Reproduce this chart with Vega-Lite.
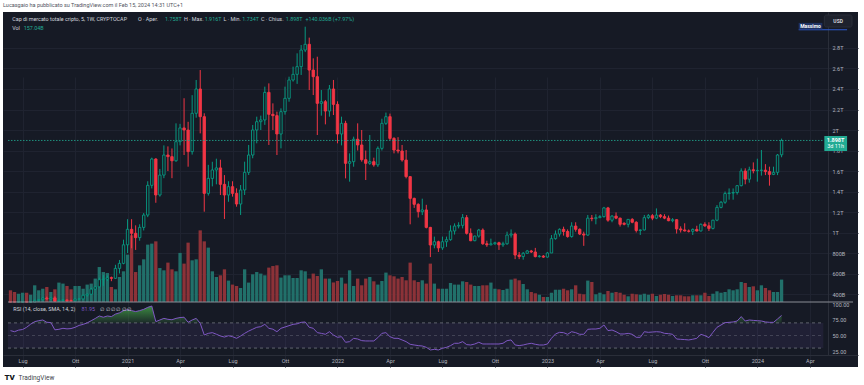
{
  "$schema": "https://vega.github.io/schema/vega-lite/v6.json",
  "width": 855,
  "height": 355,
  "autosize": {"type": "none"},
  "padding": {"left": 3, "top": 12, "right": 6, "bottom": 18},
  "background": "#ffffff",
  "config": {
    "view": {"fill": "#161a25", "stroke": null},
    "font": "Roboto",
    "text": {"font": "Roboto"},
    "mark": {"invalid": null}
  },
  "title": {
    "text": "Lucasgaio ha pubblicato su TradingView.com il Feb 15, 2024 14:31 UTC+1",
    "anchor": "start", "frame": "group", "fontSize": 5.5, "fontWeight": "normal",
    "color": "#50535e", "offset": 4
  },
  "datasets": {
    "weekly": [
      {"d":"2020-06-15","o":0.27,"h":0.278,"l":0.26,"c":0.268,"v":82,"r":57.7},
      {"d":"2020-06-22","o":0.268,"h":0.272,"l":0.258,"c":0.262,"v":70,"r":56},
      {"d":"2020-06-29","o":0.262,"h":0.272,"l":0.258,"c":0.27,"v":58,"r":58.5},
      {"d":"2020-07-06","o":0.27,"h":0.278,"l":0.266,"c":0.273,"v":65,"r":59.5},
      {"d":"2020-07-13","o":0.273,"h":0.276,"l":0.266,"c":0.271,"v":65,"r":63},
      {"d":"2020-07-20","o":0.271,"h":0.308,"l":0.268,"c":0.305,"v":51,"r":68},
      {"d":"2020-07-27","o":0.305,"h":0.345,"l":0.3,"c":0.338,"v":117,"r":72},
      {"d":"2020-08-03","o":0.338,"h":0.352,"l":0.325,"c":0.345,"v":82,"r":73.5},
      {"d":"2020-08-10","o":0.345,"h":0.368,"l":0.335,"c":0.36,"v":93,"r":74.6},
      {"d":"2020-08-17","o":0.36,"h":0.375,"l":0.345,"c":0.352,"v":105,"r":71},
      {"d":"2020-08-24","o":0.352,"h":0.368,"l":0.348,"c":0.362,"v":70,"r":70.5},
      {"d":"2020-08-31","o":0.362,"h":0.378,"l":0.318,"c":0.33,"v":89,"r":59},
      {"d":"2020-09-07","o":0.33,"h":0.345,"l":0.318,"c":0.338,"v":136,"r":59.8},
      {"d":"2020-09-14","o":0.338,"h":0.352,"l":0.33,"c":0.342,"v":129,"r":61.4},
      {"d":"2020-09-21","o":0.342,"h":0.346,"l":0.318,"c":0.336,"v":112,"r":60.5},
      {"d":"2020-09-28","o":0.336,"h":0.345,"l":0.326,"c":0.334,"v":89,"r":61},
      {"d":"2020-10-05","o":0.334,"h":0.352,"l":0.33,"c":0.35,"v":112,"r":63},
      {"d":"2020-10-12","o":0.35,"h":0.36,"l":0.342,"c":0.352,"v":112,"r":66},
      {"d":"2020-10-19","o":0.352,"h":0.392,"l":0.35,"c":0.388,"v":93,"r":67.7},
      {"d":"2020-10-26","o":0.388,"h":0.405,"l":0.375,"c":0.398,"v":122,"r":70},
      {"d":"2020-11-02","o":0.398,"h":0.46,"l":0.392,"c":0.448,"v":129,"r":73.5},
      {"d":"2020-11-09","o":0.448,"h":0.478,"l":0.44,"c":0.47,"v":164,"r":77},
      {"d":"2020-11-16","o":0.47,"h":0.56,"l":0.465,"c":0.54,"v":245,"r":81},
      {"d":"2020-11-23","o":0.54,"h":0.585,"l":0.48,"c":0.545,"v":210,"r":79},
      {"d":"2020-11-30","o":0.545,"h":0.58,"l":0.528,"c":0.56,"v":203,"r":81},
      {"d":"2020-12-07","o":0.56,"h":0.57,"l":0.525,"c":0.553,"v":105,"r":80},
      {"d":"2020-12-14","o":0.553,"h":0.685,"l":0.548,"c":0.65,"v":89,"r":84},
      {"d":"2020-12-21","o":0.65,"h":0.732,"l":0.6,"c":0.699,"v":175,"r":86},
      {"d":"2020-12-28","o":0.699,"h":0.93,"l":0.69,"c":0.88,"v":215,"r":89.4},
      {"d":"2021-01-04","o":0.88,"h":1.13,"l":0.8,"c":1.031,"v":332,"r":91},
      {"d":"2021-01-11","o":1.031,"h":1.13,"l":0.846,"c":0.992,"v":467,"r":89.5},
      {"d":"2021-01-18","o":0.992,"h":1.07,"l":0.83,"c":0.95,"v":210,"r":88},
      {"d":"2021-01-25","o":0.95,"h":1.08,"l":0.92,"c":1.05,"v":257,"r":89.5},
      {"d":"2021-02-01","o":1.05,"h":1.19,"l":1.02,"c":1.17,"v":299,"r":91.5},
      {"d":"2021-02-08","o":1.17,"h":1.5,"l":1.15,"c":1.46,"v":402,"r":94.7},
      {"d":"2021-02-15","o":1.46,"h":1.73,"l":1.43,"c":1.717,"v":409,"r":96.8},
      {"d":"2021-02-22","o":1.717,"h":1.725,"l":1.29,"c":1.366,"v":425,"r":72},
      {"d":"2021-03-01","o":1.366,"h":1.62,"l":1.35,"c":1.56,"v":238,"r":74.6},
      {"d":"2021-03-08","o":1.56,"h":1.85,"l":1.53,"c":1.756,"v":222,"r":77.2},
      {"d":"2021-03-15","o":1.756,"h":1.84,"l":1.6,"c":1.74,"v":276,"r":75.7},
      {"d":"2021-03-22","o":1.74,"h":1.82,"l":1.53,"c":1.7,"v":229,"r":75},
      {"d":"2021-03-29","o":1.7,"h":2.065,"l":1.69,"c":1.886,"v":215,"r":77.2},
      {"d":"2021-04-05","o":1.886,"h":2.06,"l":1.85,"c":2.02,"v":344,"r":78.5},
      {"d":"2021-04-12","o":2.02,"h":2.31,"l":1.756,"c":2.0,"v":269,"r":79},
      {"d":"2021-04-19","o":2.0,"h":2.08,"l":1.642,"c":1.789,"v":416,"r":71},
      {"d":"2021-04-26","o":1.789,"h":2.34,"l":1.76,"c":2.163,"v":292,"r":74.6},
      {"d":"2021-05-03","o":2.163,"h":2.488,"l":2.12,"c":2.4,"v":299,"r":77.2},
      {"d":"2021-05-10","o":2.4,"h":2.585,"l":1.967,"c":2.13,"v":502,"r":69.3},
      {"d":"2021-05-17","o":2.13,"h":2.163,"l":1.203,"c":1.382,"v":425,"r":50.8},
      {"d":"2021-05-24","o":1.382,"h":1.66,"l":1.36,"c":1.528,"v":381,"r":53.4},
      {"d":"2021-05-31","o":1.528,"h":1.69,"l":1.45,"c":1.61,"v":215,"r":54.5},
      {"d":"2021-06-07","o":1.61,"h":1.72,"l":1.47,"c":1.63,"v":175,"r":52},
      {"d":"2021-06-14","o":1.63,"h":1.71,"l":1.366,"c":1.47,"v":187,"r":49.2},
      {"d":"2021-06-21","o":1.47,"h":1.56,"l":1.132,"c":1.366,"v":229,"r":47.5},
      {"d":"2021-06-28","o":1.366,"h":1.5,"l":1.3,"c":1.447,"v":150,"r":49.7},
      {"d":"2021-07-05","o":1.447,"h":1.5,"l":1.35,"c":1.382,"v":122,"r":48.1},
      {"d":"2021-07-12","o":1.382,"h":1.431,"l":1.252,"c":1.278,"v":112,"r":45.5},
      {"d":"2021-07-19","o":1.278,"h":1.463,"l":1.171,"c":1.415,"v":98,"r":49.2},
      {"d":"2021-07-26","o":1.415,"h":1.691,"l":1.366,"c":1.587,"v":229,"r":53.4},
      {"d":"2021-08-02","o":1.587,"h":1.854,"l":1.561,"c":1.756,"v":136,"r":57},
      {"d":"2021-08-09","o":1.756,"h":2.049,"l":1.724,"c":2.0,"v":194,"r":60},
      {"d":"2021-08-16","o":2.0,"h":2.13,"l":1.87,"c":2.081,"v":210,"r":63},
      {"d":"2021-08-23","o":2.081,"h":2.14,"l":2.0,"c":2.098,"v":199,"r":64},
      {"d":"2021-08-30","o":2.098,"h":2.423,"l":2.05,"c":2.367,"v":187,"r":67.7},
      {"d":"2021-09-06","o":2.367,"h":2.455,"l":1.854,"c":2.153,"v":241,"r":61.4},
      {"d":"2021-09-13","o":2.153,"h":2.26,"l":2.0,"c":2.14,"v":252,"r":60},
      {"d":"2021-09-20","o":2.14,"h":2.179,"l":1.756,"c":1.961,"v":257,"r":56},
      {"d":"2021-09-27","o":1.961,"h":2.211,"l":1.821,"c":2.179,"v":171,"r":61.4},
      {"d":"2021-10-04","o":2.179,"h":2.423,"l":2.15,"c":2.309,"v":187,"r":63.5},
      {"d":"2021-10-11","o":2.309,"h":2.52,"l":2.276,"c":2.488,"v":187,"r":65.6},
      {"d":"2021-10-18","o":2.488,"h":2.618,"l":2.472,"c":2.543,"v":168,"r":67.7},
      {"d":"2021-10-25","o":2.543,"h":2.748,"l":2.45,"c":2.618,"v":168,"r":68.5},
      {"d":"2021-11-01","o":2.618,"h":2.829,"l":2.537,"c":2.78,"v":222,"r":70.9},
      {"d":"2021-11-08","o":2.78,"h":3.008,"l":2.76,"c":2.836,"v":215,"r":71.5},
      {"d":"2021-11-15","o":2.836,"h":2.901,"l":2.39,"c":2.585,"v":164,"r":63},
      {"d":"2021-11-22","o":2.585,"h":2.699,"l":2.341,"c":2.52,"v":199,"r":61.4},
      {"d":"2021-11-29","o":2.52,"h":2.715,"l":1.951,"c":2.26,"v":182,"r":54.5},
      {"d":"2021-12-06","o":2.26,"h":2.39,"l":2.14,"c":2.276,"v":229,"r":53.4},
      {"d":"2021-12-13","o":2.276,"h":2.293,"l":2.055,"c":2.185,"v":164,"r":51.9},
      {"d":"2021-12-20","o":2.185,"h":2.439,"l":2.13,"c":2.4,"v":164,"r":56},
      {"d":"2021-12-27","o":2.4,"h":2.488,"l":2.146,"c":2.25,"v":137,"r":50.8},
      {"d":"2022-01-03","o":2.25,"h":2.28,"l":1.87,"c":1.961,"v":147,"r":47.1},
      {"d":"2022-01-10","o":1.961,"h":2.13,"l":1.85,"c":2.065,"v":171,"r":48.1},
      {"d":"2022-01-17","o":2.065,"h":2.09,"l":1.528,"c":1.675,"v":129,"r":39.2},
      {"d":"2022-01-24","o":1.675,"h":1.772,"l":1.496,"c":1.691,"v":222,"r":40.2},
      {"d":"2022-01-31","o":1.691,"h":1.935,"l":1.642,"c":1.91,"v":112,"r":45.5},
      {"d":"2022-02-07","o":1.91,"h":2.065,"l":1.8,"c":1.854,"v":164,"r":44.4},
      {"d":"2022-02-14","o":1.854,"h":2.0,"l":1.691,"c":1.71,"v":117,"r":41.8},
      {"d":"2022-02-21","o":1.71,"h":1.8,"l":1.512,"c":1.675,"v":164,"r":41.3},
      {"d":"2022-02-28","o":1.675,"h":1.951,"l":1.66,"c":1.691,"v":175,"r":41.3},
      {"d":"2022-03-07","o":1.691,"h":1.73,"l":1.642,"c":1.66,"v":145,"r":41.3},
      {"d":"2022-03-14","o":1.66,"h":1.84,"l":1.64,"c":1.821,"v":122,"r":46.6},
      {"d":"2022-03-21","o":1.821,"h":2.11,"l":1.8,"c":2.065,"v":147,"r":53.4},
      {"d":"2022-03-28","o":2.065,"h":2.17,"l":2.05,"c":2.13,"v":206,"r":54.5},
      {"d":"2022-04-04","o":2.13,"h":2.16,"l":1.9,"c":1.918,"v":187,"r":48.1},
      {"d":"2022-04-11","o":1.918,"h":1.93,"l":1.772,"c":1.805,"v":180,"r":45.5},
      {"d":"2022-04-18","o":1.805,"h":1.93,"l":1.772,"c":1.795,"v":164,"r":45.5},
      {"d":"2022-04-25","o":1.795,"h":1.854,"l":1.691,"c":1.707,"v":175,"r":42.9},
      {"d":"2022-05-02","o":1.707,"h":1.805,"l":1.528,"c":1.545,"v":152,"r":40.2},
      {"d":"2022-05-09","o":1.545,"h":1.55,"l":1.08,"c":1.333,"v":276,"r":36},
      {"d":"2022-05-16","o":1.333,"h":1.34,"l":1.24,"c":1.275,"v":152,"r":34.9},
      {"d":"2022-05-23","o":1.275,"h":1.285,"l":1.146,"c":1.203,"v":140,"r":33.9},
      {"d":"2022-05-30","o":1.203,"h":1.33,"l":1.17,"c":1.22,"v":152,"r":33.3},
      {"d":"2022-06-06","o":1.22,"h":1.27,"l":1.04,"c":1.05,"v":129,"r":31.2},
      {"d":"2022-06-13","o":1.05,"h":1.055,"l":0.76,"c":0.878,"v":269,"r":27},
      {"d":"2022-06-20","o":0.878,"h":0.96,"l":0.846,"c":0.91,"v":129,"r":28},
      {"d":"2022-06-27","o":0.91,"h":0.92,"l":0.81,"c":0.85,"v":93,"r":27},
      {"d":"2022-07-04","o":0.85,"h":0.96,"l":0.83,"c":0.91,"v":93,"r":29.6},
      {"d":"2022-07-11","o":0.91,"h":0.96,"l":0.86,"c":0.93,"v":93,"r":31.2},
      {"d":"2022-07-18","o":0.93,"h":1.07,"l":0.92,"c":1.015,"v":133,"r":33.9},
      {"d":"2022-07-25","o":1.015,"h":1.089,"l":0.98,"c":1.063,"v":122,"r":37.6},
      {"d":"2022-08-01","o":1.063,"h":1.1,"l":1.04,"c":1.07,"v":122,"r":37.6},
      {"d":"2022-08-08","o":1.07,"h":1.18,"l":1.04,"c":1.145,"v":145,"r":40.2},
      {"d":"2022-08-15","o":1.145,"h":1.17,"l":0.98,"c":0.992,"v":140,"r":35.5},
      {"d":"2022-08-22","o":0.992,"h":1.04,"l":0.915,"c":0.92,"v":122,"r":34.9},
      {"d":"2022-08-29","o":0.92,"h":0.97,"l":0.915,"c":0.965,"v":112,"r":36.5},
      {"d":"2022-09-05","o":0.965,"h":1.035,"l":0.95,"c":1.024,"v":112,"r":39.2},
      {"d":"2022-09-12","o":1.024,"h":1.04,"l":0.88,"c":0.89,"v":117,"r":36.5},
      {"d":"2022-09-19","o":0.89,"h":0.92,"l":0.86,"c":0.88,"v":117,"r":36.5},
      {"d":"2022-09-26","o":0.88,"h":0.94,"l":0.874,"c":0.89,"v":136,"r":36.5},
      {"d":"2022-10-03","o":0.89,"h":0.91,"l":0.88,"c":0.9,"v":93,"r":36.5},
      {"d":"2022-10-10","o":0.9,"h":0.91,"l":0.83,"c":0.88,"v":89,"r":36.5},
      {"d":"2022-10-17","o":0.88,"h":0.91,"l":0.86,"c":0.89,"v":84,"r":37.6},
      {"d":"2022-10-24","o":0.89,"h":1.008,"l":0.88,"c":0.975,"v":93,"r":41.8},
      {"d":"2022-10-31","o":0.975,"h":1.03,"l":0.95,"c":0.985,"v":157,"r":42.9},
      {"d":"2022-11-07","o":0.985,"h":1.0,"l":0.74,"c":0.78,"v":164,"r":34.9},
      {"d":"2022-11-14","o":0.78,"h":0.81,"l":0.74,"c":0.765,"v":152,"r":33.9},
      {"d":"2022-11-21","o":0.765,"h":0.81,"l":0.735,"c":0.797,"v":126,"r":34.9},
      {"d":"2022-11-28","o":0.797,"h":0.83,"l":0.79,"c":0.82,"v":89,"r":36.5},
      {"d":"2022-12-05","o":0.82,"h":0.83,"l":0.8,"c":0.81,"v":70,"r":37.6},
      {"d":"2022-12-12","o":0.81,"h":0.85,"l":0.757,"c":0.765,"v":61,"r":36},
      {"d":"2022-12-19","o":0.765,"h":0.78,"l":0.755,"c":0.77,"v":51,"r":34.9},
      {"d":"2022-12-26","o":0.77,"h":0.78,"l":0.752,"c":0.76,"v":35,"r":34.9},
      {"d":"2023-01-02","o":0.76,"h":0.81,"l":0.755,"c":0.8,"v":35,"r":36.5},
      {"d":"2023-01-09","o":0.8,"h":0.975,"l":0.8,"c":0.94,"v":65,"r":45.5},
      {"d":"2023-01-16","o":0.94,"h":1.02,"l":0.93,"c":0.985,"v":86,"r":52.4},
      {"d":"2023-01-23","o":0.985,"h":1.04,"l":0.96,"c":1.031,"v":86,"r":55},
      {"d":"2023-01-30","o":1.031,"h":1.057,"l":0.97,"c":1.01,"v":93,"r":54.5},
      {"d":"2023-02-06","o":1.01,"h":1.03,"l":0.95,"c":0.96,"v":82,"r":51.9},
      {"d":"2023-02-13","o":0.96,"h":1.1,"l":0.95,"c":1.063,"v":89,"r":56},
      {"d":"2023-02-20","o":1.063,"h":1.1,"l":1.008,"c":1.031,"v":117,"r":54.5},
      {"d":"2023-02-27","o":1.031,"h":1.04,"l":0.975,"c":0.985,"v":58,"r":51.9},
      {"d":"2023-03-06","o":0.985,"h":1.008,"l":0.87,"c":0.975,"v":54,"r":51.9},
      {"d":"2023-03-13","o":0.975,"h":1.171,"l":0.968,"c":1.14,"v":150,"r":59.8},
      {"d":"2023-03-20","o":1.14,"h":1.171,"l":1.11,"c":1.135,"v":140,"r":60.3},
      {"d":"2023-03-27","o":1.135,"h":1.178,"l":1.08,"c":1.145,"v":54,"r":60.3},
      {"d":"2023-04-03","o":1.145,"h":1.17,"l":1.14,"c":1.155,"v":65,"r":61.4},
      {"d":"2023-04-10","o":1.155,"h":1.25,"l":1.145,"c":1.24,"v":54,"r":66.7},
      {"d":"2023-04-17","o":1.24,"h":1.25,"l":1.105,"c":1.12,"v":77,"r":57.7},
      {"d":"2023-04-24","o":1.12,"h":1.17,"l":1.1,"c":1.16,"v":65,"r":58.7},
      {"d":"2023-05-01","o":1.16,"h":1.196,"l":1.13,"c":1.14,"v":70,"r":56},
      {"d":"2023-05-08","o":1.14,"h":1.145,"l":1.058,"c":1.08,"v":65,"r":52.4},
      {"d":"2023-05-15","o":1.09,"h":1.1,"l":1.07,"c":1.08,"v":51,"r":52.4},
      {"d":"2023-05-22","o":1.08,"h":1.13,"l":1.05,"c":1.128,"v":40,"r":53.4},
      {"d":"2023-05-29","o":1.128,"h":1.14,"l":1.09,"c":1.1,"v":58,"r":51.9},
      {"d":"2023-06-05","o":1.1,"h":1.11,"l":1.0,"c":1.02,"v":54,"r":47.1},
      {"d":"2023-06-12","o":1.02,"h":1.03,"l":0.976,"c":1.025,"v":51,"r":47.1},
      {"d":"2023-06-19","o":1.025,"h":1.171,"l":1.02,"c":1.145,"v":58,"r":56},
      {"d":"2023-06-26","o":1.145,"h":1.18,"l":1.13,"c":1.164,"v":51,"r":55},
      {"d":"2023-07-03","o":1.164,"h":1.18,"l":1.12,"c":1.14,"v":58,"r":55.5},
      {"d":"2023-07-10","o":1.14,"h":1.235,"l":1.13,"c":1.17,"v":42,"r":56},
      {"d":"2023-07-17","o":1.17,"h":1.18,"l":1.14,"c":1.155,"v":51,"r":55.5},
      {"d":"2023-07-24","o":1.155,"h":1.178,"l":1.13,"c":1.14,"v":56,"r":53.4},
      {"d":"2023-07-31","o":1.14,"h":1.165,"l":1.11,"c":1.115,"v":51,"r":52.9},
      {"d":"2023-08-07","o":1.115,"h":1.14,"l":1.1,"c":1.125,"v":42,"r":51.9},
      {"d":"2023-08-14","o":1.125,"h":1.13,"l":0.99,"c":1.035,"v":47,"r":44.4},
      {"d":"2023-08-21","o":1.035,"h":1.06,"l":1.0,"c":1.025,"v":47,"r":43.9},
      {"d":"2023-08-28","o":1.025,"h":1.09,"l":1.01,"c":1.015,"v":40,"r":43.5},
      {"d":"2023-09-04","o":1.015,"h":1.03,"l":1.0,"c":1.012,"v":40,"r":42.9},
      {"d":"2023-09-11","o":1.012,"h":1.04,"l":0.976,"c":1.03,"v":47,"r":44},
      {"d":"2023-09-18","o":1.03,"h":1.066,"l":1.01,"c":1.015,"v":47,"r":45.5},
      {"d":"2023-09-25","o":1.015,"h":1.088,"l":1.01,"c":1.08,"v":47,"r":51.9},
      {"d":"2023-10-02","o":1.08,"h":1.1,"l":1.055,"c":1.065,"v":65,"r":49.7},
      {"d":"2023-10-09","o":1.065,"h":1.1,"l":1.015,"c":1.04,"v":42,"r":46.6},
      {"d":"2023-10-16","o":1.04,"h":1.125,"l":1.03,"c":1.12,"v":58,"r":55},
      {"d":"2023-10-23","o":1.12,"h":1.268,"l":1.11,"c":1.245,"v":75,"r":63},
      {"d":"2023-10-30","o":1.245,"h":1.307,"l":1.236,"c":1.295,"v":65,"r":66.7},
      {"d":"2023-11-06","o":1.295,"h":1.4,"l":1.28,"c":1.38,"v":70,"r":70.4},
      {"d":"2023-11-13","o":1.38,"h":1.43,"l":1.32,"c":1.385,"v":89,"r":70.9},
      {"d":"2023-11-20","o":1.385,"h":1.43,"l":1.32,"c":1.39,"v":82,"r":71.5},
      {"d":"2023-11-27","o":1.39,"h":1.463,"l":1.37,"c":1.457,"v":89,"r":73},
      {"d":"2023-12-04","o":1.457,"h":1.626,"l":1.45,"c":1.6,"v":140,"r":80},
      {"d":"2023-12-11","o":1.6,"h":1.626,"l":1.47,"c":1.52,"v":133,"r":73},
      {"d":"2023-12-18","o":1.52,"h":1.642,"l":1.486,"c":1.612,"v":105,"r":74.6},
      {"d":"2023-12-25","o":1.612,"h":1.684,"l":1.577,"c":1.603,"v":110,"r":74},
      {"d":"2024-01-01","o":1.603,"h":1.72,"l":1.496,"c":1.606,"v":82,"r":73.5},
      {"d":"2024-01-08","o":1.606,"h":1.805,"l":1.555,"c":1.608,"v":117,"r":73},
      {"d":"2024-01-15","o":1.608,"h":1.667,"l":1.56,"c":1.594,"v":98,"r":71.5},
      {"d":"2024-01-22","o":1.594,"h":1.642,"l":1.457,"c":1.567,"v":82,"r":70.9},
      {"d":"2024-01-29","o":1.567,"h":1.642,"l":1.56,"c":1.587,"v":70,"r":70.9},
      {"d":"2024-02-05","o":1.587,"h":1.766,"l":1.56,"c":1.756,"v":70,"r":76.2},
      {"d":"2024-02-12","o":1.758,"h":1.916,"l":1.734,"c":1.898,"v":157.04,"r":81.95}
    ],
    "one": [{"k": 1}]
  },
  "resolve": {"scale": {"y": "independent"}, "axis": {"y": "independent"}},
  "layer": [
    {
      "data": {"name": "weekly"},
      "mark": {"type": "bar", "size": 3.3},
      "encoding": {
        "x": {
          "field": "d", "type": "temporal",
          "scale": {"domain": [{"year": 2020, "month": 6, "date": 10, "hours": 17}, {"year": 2024, "month": 6, "date": 14, "hours": 20}]},
          "axis": {
            "orient": "bottom", "offset": -12, "tickCount": 60,
            "values": [
              {"year": 2020, "month": 7, "date": 6}, {"year": 2020, "month": 10, "date": 5},
              {"year": 2021, "month": 1, "date": 4}, {"year": 2021, "month": 4, "date": 5},
              {"year": 2021, "month": 7, "date": 5}, {"year": 2021, "month": 10, "date": 4},
              {"year": 2022, "month": 1, "date": 3}, {"year": 2022, "month": 4, "date": 4},
              {"year": 2022, "month": 7, "date": 4}, {"year": 2022, "month": 10, "date": 3},
              {"year": 2023, "month": 1, "date": 2}, {"year": 2023, "month": 4, "date": 3},
              {"year": 2023, "month": 7, "date": 3}, {"year": 2023, "month": 10, "date": 2},
              {"year": 2024, "month": 1, "date": 1}, {"year": 2024, "month": 4, "date": 1}
            ],
            "labelExpr": "month(datum.value) == 0 ? timeFormat(datum.value, '%Y') : ['Gen','Feb','Mar','Apr','Mag','Giu','Lug','Ago','Set','Ott','Nov','Dic'][month(datum.value)]",
            "labelFontSize": 5.5, "labelColor": "#b2b5be", "labelPadding": 3,
            "labelFlush": false, "labelOverlap": false,
            "ticks": false, "domain": true, "domainColor": "#2a2e39",
            "grid": true, "gridColor": "#1f2330",
            "title": "TradingView", "titleX": 15, "titleY": 22, "titleAlign": "left",
            "titleAnchor": "start", "titleBaseline": "middle", "titleFontSize": 6.5,
            "titleFontWeight": "normal", "titleColor": "#3c3f4a"
          }
        },
        "y": {
          "field": "v", "type": "quantitative",
          "scale": {"domain": [0, 2032], "range": [290, 0], "nice": false},
          "axis": {
            "orient": "left", "title": "TV", "titleAngle": 0, "titleX": 1, "titleY": 365,
            "titleAlign": "left", "titleBaseline": "middle", "titleFontSize": 8,
            "titleFontWeight": 900, "titleColor": "#131722",
            "labels": false, "ticks": false, "domain": false, "grid": false
          }
        },
        "color": {"condition": {"test": "datum.c >= datum.o", "value": "#21706a"}, "value": "#8c3238"}
      }
    },
    {
      "layer": [
        {
          "data": {"name": "weekly"},
          "mark": {"type": "rule", "strokeWidth": 1},
          "encoding": {
            "x": {"field": "d", "type": "temporal"},
            "y": {
              "field": "l", "type": "quantitative",
              "scale": {"domain": [0.322, 3.1512], "range": [290, 0], "zero": false, "nice": false, "clamp": true},
              "axis": {
                "orient": "right", "offset": -30, "title": null, "tickCount": 60,
                "values": [0.4, 0.6, 0.8, 1, 1.2, 1.4, 1.6, 1.8, 2, 2.2, 2.4, 2.6, 2.8],
                "labelExpr": "datum.value >= 1 ? format(datum.value, '.1~f') + 'T' : format(datum.value * 1000, 'd') + 'B'",
                "labelFontSize": 5.5, "labelColor": "#b2b5be", "labelPadding": 4,
                "labelOverlap": false, "labelFlush": false,
                "ticks": false, "domain": true, "domainColor": "#2a2e39",
                "grid": true, "gridColor": "#1f2330"
              }
            },
            "y2": {"field": "h"},
            "color": {"condition": {"test": "datum.c >= datum.o", "value": "#089981"}, "value": "#f23645"}
          }
        },
        {
          "data": {"name": "weekly"},
          "mark": {"type": "bar", "size": 2.4, "strokeWidth": 0.9},
          "encoding": {
            "x": {"field": "d", "type": "temporal"},
            "y": {"field": "o", "type": "quantitative"},
            "y2": {"field": "c"},
            "fill": {"condition": {"test": "datum.c >= datum.o", "value": "#161a25"}, "value": "#f23645"},
            "stroke": {"condition": {"test": "datum.c >= datum.o", "value": "#089981"}, "value": "#f23645"}
          }
        },
        {
          "data": {"name": "one"},
          "mark": {"type": "rule", "color": "#22ab94", "strokeDash": [1.5, 1.5], "strokeWidth": 1, "opacity": 0.8},
          "encoding": {
            "y": {"datum": 1.898, "type": "quantitative"},
            "x": {"datum": {"year": 2020, "month": 6, "date": 10, "hours": 17}, "type": "temporal"},
            "x2": {"datum": {"year": 2024, "month": 4, "date": 24, "hours": 10}}
          }
        },
        {
          "data": {"name": "one"},
          "mark": {"type": "rule", "color": "#8a8d96", "strokeWidth": 1},
          "encoding": {
            "y": {"datum": 0.322, "type": "quantitative"},
            "x": {"datum": {"year": 2020, "month": 6, "date": 10, "hours": 17}, "type": "temporal"},
            "x2": {"datum": {"year": 2024, "month": 6, "date": 14, "hours": 20}}
          }
        },
        {
          "data": {"name": "one"},
          "mark": {"type": "rule", "color": "#2f5bd0", "strokeWidth": 1},
          "encoding": {
            "y": {"datum": 2.978, "type": "quantitative"},
            "x": {"datum": {"year": 2024, "month": 3, "date": 12, "hours": 14}, "type": "temporal"},
            "x2": {"datum": {"year": 2024, "month": 6, "date": 4, "hours": 14}}
          }
        },
        {
          "data": {"name": "one"},
          "mark": {"type": "rect", "color": "#1e3262"},
          "encoding": {
            "y": {"datum": 3.045, "type": "quantitative"}, "y2": {"datum": 2.982},
            "x": {"datum": {"year": 2024, "month": 3, "date": 12, "hours": 14}, "type": "temporal"},
            "x2": {"datum": {"year": 2024, "month": 4, "date": 22, "hours": 17}}
          }
        },
        {
          "data": {"name": "one"},
          "mark": {"type": "text", "text": "Massimo", "fontSize": 5, "fontWeight": "bold", "color": "#ffffff", "align": "center", "baseline": "middle"},
          "encoding": {
            "y": {"datum": 3.014, "type": "quantitative"},
            "x": {"datum": {"year": 2024, "month": 4, "date": 2, "hours": 2}, "type": "temporal"}
          }
        },
        {
          "data": {"name": "one"},
          "mark": {"type": "rect", "color": "#1e222d", "stroke": "#2a2e39", "strokeWidth": 1, "cornerRadius": 2},
          "encoding": {
            "y": {"datum": 3.122, "type": "quantitative"}, "y2": {"datum": 3.005},
            "x": {"datum": {"year": 2024, "month": 4, "date": 26, "hours": 3}, "type": "temporal"},
            "x2": {"datum": {"year": 2024, "month": 6, "date": 13, "hours": 3}}
          }
        },
        {
          "data": {"name": "one"},
          "mark": {"type": "text", "text": "USD", "fontSize": 5, "fontWeight": "bold", "color": "#d1d4dc", "align": "center", "baseline": "middle"},
          "encoding": {
            "y": {"datum": 3.063, "type": "quantitative"},
            "x": {"datum": {"year": 2024, "month": 5, "date": 20, "hours": 2}, "type": "temporal"}
          }
        },
        {
          "data": {"name": "one"},
          "mark": {"type": "rect", "color": "#22ab94"},
          "encoding": {
            "y": {"datum": 1.9415, "type": "quantitative"}, "y2": {"datum": 1.795},
            "x": {"datum": {"year": 2024, "month": 4, "date": 26, "hours": 3}, "type": "temporal"},
            "x2": {"datum": {"year": 2024, "month": 6, "date": 4, "hours": 14}}
          }
        },
        {
          "data": {"name": "one"},
          "mark": {"type": "text", "text": "1.898T", "fontSize": 5.5, "fontWeight": "bold", "color": "#ffffff", "align": "center", "baseline": "middle"},
          "encoding": {
            "y": {"datum": 1.902, "type": "quantitative"},
            "x": {"datum": {"year": 2024, "month": 5, "date": 15, "hours": 14}, "type": "temporal"}
          }
        },
        {
          "data": {"name": "one"},
          "mark": {"type": "text", "text": "3d 11h", "fontSize": 5.5, "color": "#ffffff", "align": "center", "baseline": "middle"},
          "encoding": {
            "y": {"datum": 1.841, "type": "quantitative"},
            "x": {"datum": {"year": 2024, "month": 5, "date": 15, "hours": 14}, "type": "temporal"}
          }
        },
        {
          "data": {"name": "one"},
          "mark": {"type": "text", "text": "Cap di mercato totale cripto, 5, 1W, CRYPTOCAP", "fontSize": 5.4, "color": "#d1d4dc", "align": "left", "baseline": "middle"},
          "encoding": {"y": {"datum": 3.083, "type": "quantitative"}, "x": {"datum": {"year": 2020, "month": 6, "date": 18}, "type": "temporal"}}
        },
        {
          "data": {"name": "one"},
          "mark": {"type": "text", "text": "O · Aper.", "fontSize": 5.4, "color": "#d1d4dc", "align": "left", "baseline": "middle"},
          "encoding": {"y": {"datum": 3.083, "type": "quantitative"}, "x": {"datum": {"year": 2021, "month": 1, "date": 22}, "type": "temporal"}}
        },
        {
          "data": {"name": "one"},
          "mark": {"type": "text", "text": "1.758T", "fontSize": 5.4, "color": "#22ab94", "align": "left", "baseline": "middle"},
          "encoding": {"y": {"datum": 3.083, "type": "quantitative"}, "x": {"datum": {"year": 2021, "month": 3, "date": 10}, "type": "temporal"}}
        },
        {
          "data": {"name": "one"},
          "mark": {"type": "text", "text": "H · Max.", "fontSize": 5.4, "color": "#d1d4dc", "align": "left", "baseline": "middle"},
          "encoding": {"y": {"datum": 3.083, "type": "quantitative"}, "x": {"datum": {"year": 2021, "month": 4, "date": 11, "hours": 17}, "type": "temporal"}}
        },
        {
          "data": {"name": "one"},
          "mark": {"type": "text", "text": "1.916T", "fontSize": 5.4, "color": "#22ab94", "align": "left", "baseline": "middle"},
          "encoding": {"y": {"datum": 3.083, "type": "quantitative"}, "x": {"datum": {"year": 2021, "month": 5, "date": 17, "hours": 17}, "type": "temporal"}}
        },
        {
          "data": {"name": "one"},
          "mark": {"type": "text", "text": "L · Min.", "fontSize": 5.4, "color": "#d1d4dc", "align": "left", "baseline": "middle"},
          "encoding": {"y": {"datum": 3.083, "type": "quantitative"}, "x": {"datum": {"year": 2021, "month": 6, "date": 19, "hours": 7}, "type": "temporal"}}
        },
        {
          "data": {"name": "one"},
          "mark": {"type": "text", "text": "1.734T", "fontSize": 5.4, "color": "#22ab94", "align": "left", "baseline": "middle"},
          "encoding": {"y": {"datum": 3.083, "type": "quantitative"}, "x": {"datum": {"year": 2021, "month": 7, "date": 21, "hours": 19}, "type": "temporal"}}
        },
        {
          "data": {"name": "one"},
          "mark": {"type": "text", "text": "C · Chius.", "fontSize": 5.4, "color": "#d1d4dc", "align": "left", "baseline": "middle"},
          "encoding": {"y": {"datum": 3.083, "type": "quantitative"}, "x": {"datum": {"year": 2021, "month": 8, "date": 23, "hours": 10}, "type": "temporal"}}
        },
        {
          "data": {"name": "one"},
          "mark": {"type": "text", "text": "1.898T", "fontSize": 5.4, "color": "#22ab94", "align": "left", "baseline": "middle"},
          "encoding": {"y": {"datum": 3.083, "type": "quantitative"}, "x": {"datum": {"year": 2021, "month": 10, "date": 5, "hours": 5}, "type": "temporal"}}
        },
        {
          "data": {"name": "one"},
          "mark": {"type": "text", "text": "+140.036B (+7.97%)", "fontSize": 5.4, "color": "#22ab94", "align": "left", "baseline": "middle"},
          "encoding": {"y": {"datum": 3.083, "type": "quantitative"}, "x": {"datum": {"year": 2021, "month": 11, "date": 8, "hours": 12}, "type": "temporal"}}
        },
        {
          "data": {"name": "one"},
          "mark": {"type": "text", "text": "Vol", "fontSize": 5.4, "color": "#d1d4dc", "align": "left", "baseline": "middle"},
          "encoding": {"y": {"datum": 2.992, "type": "quantitative"}, "x": {"datum": {"year": 2020, "month": 6, "date": 18}, "type": "temporal"}}
        },
        {
          "data": {"name": "one"},
          "mark": {"type": "text", "text": "157.04B", "fontSize": 5.4, "color": "#22ab94", "align": "left", "baseline": "middle"},
          "encoding": {"y": {"datum": 2.992, "type": "quantitative"}, "x": {"datum": {"year": 2020, "month": 7, "date": 8}, "type": "temporal"}}
        }
      ]
    },
    {
      "data": {"name": "weekly"},
      "mark": {
        "type": "area",
        "color": {
          "gradient": "linear", "x1": 0, "y1": 0, "x2": 0, "y2": 1,
          "stops": [{"offset": 0, "color": "rgba(67,160,71,0.85)"}, {"offset": 1, "color": "rgba(67,160,71,0.12)"}]
        }
      },
      "encoding": {
        "x": {"field": "d", "type": "temporal"},
        "y": {
          "field": "r", "type": "quantitative",
          "scale": {"domain": [70, 103.2], "range": [310.9, 290], "zero": false, "nice": false, "clamp": true},
          "axis": null
        },
        "y2": {"datum": 70}
      }
    },
    {
      "layer": [
        {
          "data": {"name": "one"},
          "mark": {"type": "rect", "color": "#7e57c2", "opacity": 0.1},
          "encoding": {
            "y": {
              "datum": 70, "type": "quantitative",
              "scale": {"domain": [19, 103.2], "range": [343, 290], "zero": false, "nice": false},
              "axis": {
                "orient": "right", "offset": -30, "title": null, "tickCount": 60,
                "values": [25, 50, 75, 100], "format": ".2f",
                "labelFontSize": 5.5, "labelColor": "#b2b5be", "labelPadding": 4,
                "labelOverlap": false, "labelFlush": false,
                "ticks": false, "domain": true, "domainColor": "#2a2e39", "grid": false
              }
            },
            "y2": {"datum": 30},
            "x": {"datum": {"year": 2020, "month": 6, "date": 10, "hours": 17}, "type": "temporal"},
            "x2": {"datum": {"year": 2024, "month": 4, "date": 24, "hours": 10}}
          }
        },
        {
          "data": {"values": [{"lvl": 70, "op": 0.75}, {"lvl": 50, "op": 0.4}, {"lvl": 30, "op": 0.75}]},
          "mark": {"type": "rule", "color": "#787b86", "strokeDash": [3, 3], "strokeWidth": 1},
          "encoding": {
            "y": {"field": "lvl", "type": "quantitative"},
            "opacity": {"field": "op", "type": "quantitative", "scale": null},
            "x": {"datum": {"year": 2020, "month": 6, "date": 10, "hours": 17}, "type": "temporal"},
            "x2": {"datum": {"year": 2024, "month": 4, "date": 24, "hours": 10}}
          }
        },
        {
          "data": {"name": "weekly"},
          "mark": {"type": "line", "color": "#7e57c2", "strokeWidth": 1},
          "encoding": {
            "x": {"field": "d", "type": "temporal"},
            "y": {"field": "r", "type": "quantitative"}
          }
        },
        {
          "data": {"name": "one"},
          "mark": {"type": "text", "text": "RSI (14, close, SMA, 14, 2)", "fontSize": 5.4, "color": "#d1d4dc", "align": "left", "baseline": "middle"},
          "encoding": {"y": {"datum": 92.06, "type": "quantitative"}, "x": {"datum": {"year": 2020, "month": 6, "date": 20}, "type": "temporal"}}
        },
        {
          "data": {"name": "one"},
          "mark": {"type": "text", "text": "81.95", "fontSize": 5.4, "color": "#7e57c2", "align": "left", "baseline": "middle"},
          "encoding": {"y": {"datum": 92.06, "type": "quantitative"}, "x": {"datum": {"year": 2020, "month": 10, "date": 16}, "type": "temporal"}}
        },
        {
          "data": {"name": "one"},
          "mark": {"type": "text", "text": "∅  ∅  ∅  ∅  ∅  ∅", "fontSize": 5.4, "color": "#d1d4dc", "align": "left", "baseline": "middle"},
          "encoding": {"y": {"datum": 92.06, "type": "quantitative"}, "x": {"datum": {"year": 2020, "month": 11, "date": 18}, "type": "temporal"}}
        }
      ]
    }
  ]
}
